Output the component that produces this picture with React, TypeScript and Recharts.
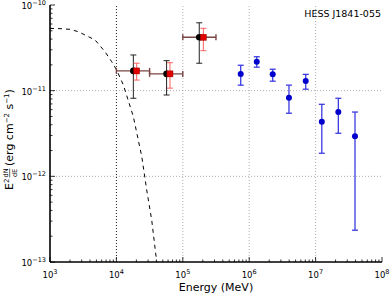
import React from 'react';
import { ComposedChart, Scatter, Line, XAxis, YAxis, ErrorBar, ReferenceLine } from 'recharts';

const FONT = '"DejaVu Sans", sans-serif';

// Axis tick labels (decades)
const xMajorTicks = [1e3, 1e4, 1e5, 1e6, 1e7, 1e8];
const yMajorTicks = [1e-13, 1e-12, 1e-11, 1e-10];

// Fermi-LAT points (black circles)
const fermiEnergy = [1.8e4, 5.7e4, 1.77e5];
const fermiEnergyLow = [1e4, 3.16e4, 1e5];
const fermiEnergyHigh = [3.16e4, 1e5, 3.16e5];
const fermiFlux = [1.7e-11, 1.57e-11, 4.2e-11];
const fermiFluxLow = [8.15e-12, 8.9e-12, 2.09e-11];
const fermiFluxHigh = [2.61e-11, 2.24e-11, 6.2e-11];

// Alternative Fermi analysis (red squares)
const fermiAltEnergy = [2.02e4, 6.41e4, 2.04e5];
const fermiAltFlux = [1.7e-11, 1.57e-11, 4.2e-11];
const fermiAltFluxLow = [1.33e-11, 1.07e-11, 2.93e-11];
const fermiAltFluxHigh = [2.09e-11, 2.12e-11, 5.34e-11];

// HESS points (blue)
const hessEnergy = [7.45e5, 1.3e6, 2.26e6, 3.97e6, 7.1e6, 1.24e7, 2.2e7, 3.92e7];
const hessFlux = [1.57e-11, 2.18e-11, 1.55e-11, 8.28e-12, 1.3e-11, 4.35e-12, 5.63e-12, 2.94e-12];
const hessFluxLow = [1.16e-11, 1.88e-11, 1.29e-11, 5.45e-12, 1.04e-11, 1.86e-12, 3.18e-12, 2.35e-13];
const hessFluxHigh = [1.98e-11, 2.49e-11, 1.78e-11, 1.16e-11, 1.55e-11, 6.93e-12, 8.15e-12, 5.63e-12];

// Dashed model curve
const modelEnergy = [1e3, 1.41e3, 2.0e3, 2.67e3, 4.77e3, 6.73e3, 8.49e3, 1.01e4, 1.27e4, 1.8e4, 2.41e4, 2.86e4, 3.4e4, 4.05e4];
const modelFlux = [5.34e-11, 5.3e-11, 5.2e-11, 4.88e-11, 3.91e-11, 2.85e-11, 2.18e-11, 1.74e-11, 1.17e-11, 4.98e-12, 1.7e-12, 6.94e-13, 3.1e-13, 1e-13];

const fermiData = fermiEnergy.map((e, i) => ({
  e,
  f: fermiFlux[i],
  ex: [e - fermiEnergyLow[i], fermiEnergyHigh[i] - e],
  ey: [fermiFlux[i] - fermiFluxLow[i], fermiFluxHigh[i] - fermiFlux[i]],
}));
const fermiAltData = fermiAltEnergy.map((e, i) => ({
  e,
  f: fermiAltFlux[i],
  ey: [fermiAltFlux[i] - fermiAltFluxLow[i], fermiAltFluxHigh[i] - fermiAltFlux[i]],
}));
const hessData = hessEnergy.map((e, i) => ({
  e,
  f: hessFlux[i],
  ey: [hessFlux[i] - hessFluxLow[i], hessFluxHigh[i] - hessFlux[i]],
}));
const modelData = modelEnergy.map((e, i) => ({ e, f: modelFlux[i] }));

const withMinor = (majors: number[]) =>
  majors.flatMap((m, i) => (i === majors.length - 1 ? [m] : [1, 2, 3, 4, 5, 6, 7, 8, 9].map((k) => k * m)));
const xTicks = withMinor(xMajorTicks);
const yTicks = withMinor(yMajorTicks);

const isMajor = (v: number, majors: number[]) => majors.some((m) => Math.abs(v / m - 1) < 1e-6);
const expOf = (v: number) => Math.round(Math.log10(v));
const expStr = (n: number) => (n < 0 ? '\u2212' + Math.abs(n) : String(n));

const MAJ = 5;
const MIN = 2.5;

const XTickBottom = (props: any) => {
  const { x, y, payload } = props;
  const major = isMajor(payload.value, xMajorTicks);
  return (
    <g>
      <line x1={x} x2={x} y1={y} y2={y - (major ? MAJ : MIN)} stroke="#000" strokeWidth={0.8} />
      {major && (
        <text x={x} y={y + 16} textAnchor="middle" fontSize={8.5} fontFamily={FONT} fill="#000">
          10
          <tspan dy={-4} fontSize={6.5}>{expStr(expOf(payload.value))}</tspan>
        </text>
      )}
    </g>
  );
};

const XTickTop = (props: any) => {
  const { x, y, payload } = props;
  const major = isMajor(payload.value, xMajorTicks);
  return <line x1={x} x2={x} y1={y} y2={y + (major ? MAJ : MIN)} stroke="#000" strokeWidth={0.8} />;
};

const YTickLeft = (props: any) => {
  const { x, y, payload } = props;
  const major = isMajor(payload.value, yMajorTicks);
  return (
    <g>
      <line x1={x} x2={x + (major ? MAJ : MIN)} y1={y} y2={y} stroke="#000" strokeWidth={0.8} />
      {major && (
        <text x={x - 4} y={y + 4} textAnchor="end" fontSize={8.5} fontFamily={FONT} fill="#000">
          10
          <tspan dy={-4} fontSize={6.5}>{expStr(expOf(payload.value))}</tspan>
        </text>
      )}
    </g>
  );
};

const YTickRight = (props: any) => {
  const { x, y, payload } = props;
  const major = isMajor(payload.value, yMajorTicks);
  return <line x1={x} x2={x - (major ? MAJ : MIN)} y1={y} y2={y} stroke="#000" strokeWidth={0.8} />;
};

const axisLine = { stroke: '#000', strokeWidth: 1.6 };

const gridX = [1e5, 1e6, 1e7];
const gridY = [1e-12, 1e-11];

export default function App() {
  return (
    <div style={{ position: 'fixed', left: 0, top: 0, width: 390, height: 295, background: '#fff' }}>
      <ComposedChart width={390} height={295} margin={{ top: 5, right: 8, bottom: 0, left: 0 }}>
        <XAxis
          dataKey="e"
          type="number"
          scale="log"
          domain={[1e3, 1e8]}
          allowDataOverflow
          ticks={xTicks}
          interval={0}
          tick={<XTickBottom />}
          tickLine={false}
          tickSize={0}
          tickMargin={0}
          axisLine={axisLine}
          height={33}
        />
        <XAxis
          xAxisId="top"
          orientation="top"
          dataKey="e"
          type="number"
          scale="log"
          domain={[1e3, 1e8]}
          allowDataOverflow
          ticks={xTicks}
          interval={0}
          tick={<XTickTop />}
          tickLine={false}
          tickSize={0}
          tickMargin={0}
          axisLine={axisLine}
          height={0}
        />
        <YAxis
          dataKey="f"
          type="number"
          scale="log"
          domain={[1e-13, 1e-10]}
          allowDataOverflow
          ticks={yTicks}
          interval={0}
          tick={<YTickLeft />}
          tickLine={false}
          tickSize={0}
          tickMargin={0}
          axisLine={axisLine}
          width={50}
        />
        <YAxis
          yAxisId="right"
          orientation="right"
          dataKey="f"
          type="number"
          scale="log"
          domain={[1e-13, 1e-10]}
          allowDataOverflow
          ticks={yTicks}
          interval={0}
          tick={<YTickRight />}
          tickLine={false}
          tickSize={0}
          tickMargin={0}
          axisLine={axisLine}
          width={0}
        />
        {gridX.map((v) => (
          <ReferenceLine key={'gx' + v} x={v} stroke="#999" strokeWidth={0.8} strokeDasharray="1 2" />
        ))}
        <ReferenceLine x={1e4} stroke="#000" strokeWidth={0.9} strokeDasharray="1 2" />
        {gridY.map((v) => (
          <ReferenceLine key={'gy' + v} y={v} stroke="#999" strokeWidth={0.8} strokeDasharray="1 2" />
        ))}
        <Line
          data={modelData}
          dataKey="f"
          stroke="#000"
          strokeWidth={1}
          strokeDasharray="4 4"
          dot={false}
          activeDot={false}
          isAnimationActive={false}
        />
        <Scatter
          data={hessData}
          isAnimationActive={false}
          shape={(p: any) => <circle cx={p.cx} cy={p.cy} r={3} fill="#0000cc" />}
        >
          <ErrorBar dataKey="ey" direction="y" stroke="#3c3ce0" strokeWidth={1.3} width={3} />
        </Scatter>
        <Scatter
          data={fermiData}
          isAnimationActive={false}
          shape={(p: any) => <circle cx={p.cx} cy={p.cy} r={3.3} fill="#000" />}
        >
          <ErrorBar dataKey="ex" direction="x" stroke="#7a4545" strokeWidth={1.4} width={3} />
          <ErrorBar dataKey="ey" direction="y" stroke="#222" strokeWidth={1} width={3} />
        </Scatter>
        <Scatter
          data={fermiAltData}
          isAnimationActive={false}
          shape={(p: any) => <rect x={p.cx - 3} y={p.cy - 3} width={6} height={6} fill="#e00000" stroke="#900" strokeWidth={0.5} />}
        >
          <ErrorBar dataKey="ey" direction="y" stroke="#ff6060" strokeWidth={1} width={3} />
        </Scatter>
      </ComposedChart>
      <svg
        width={390}
        height={295}
        style={{ position: 'absolute', left: 0, top: 0, pointerEvents: 'none' }}
        fontFamily={FONT}
      >
        <text x={381} y={17} textAnchor="end" fontSize={9.5} fill="#000">
          HESS J1841-055
        </text>
        <text x={216} y={291} textAnchor="middle" fontSize={11} fill="#000">
          Energy (MeV)
        </text>
        <g transform="translate(13, 134) rotate(-90)" fill="#000">
          <text x={-56} y={0} fontSize={11}>
            E<tspan dy={-4.5} fontSize={7}>2</tspan>
          </text>
          <text x={-39} y={-5} fontSize={6.5} textAnchor="middle">dN</text>
          <line x1={-43.5} x2={-34.5} y1={-3.3} y2={-3.3} stroke="#000" strokeWidth={0.6} />
          <text x={-39} y={3.5} fontSize={6.5} textAnchor="middle">dE</text>
          <text x={-32} y={0} fontSize={11}>
            (erg cm<tspan dy={-4.5} fontSize={7}>{'\u22122'}</tspan>
            <tspan dy={4.5}> s</tspan>
            <tspan dy={-4.5} fontSize={7}>{'\u22121'}</tspan>
            <tspan dy={4.5}>)</tspan>
          </text>
        </g>
      </svg>
    </div>
  );
}
